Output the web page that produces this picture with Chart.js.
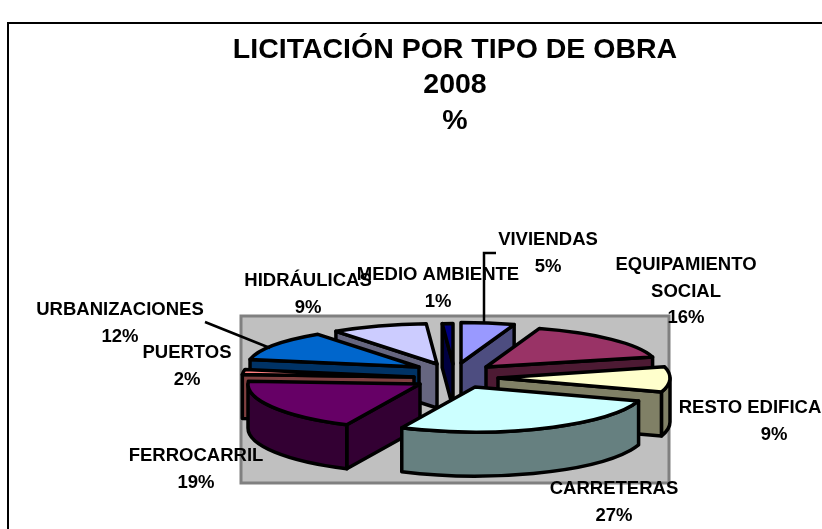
<!DOCTYPE html>
<html>
<head>
<meta charset="utf-8">
<script src="https://cdn.jsdelivr.net/npm/chart.js@4"></script>
<style>
  html, body { margin: 0; padding: 0; background: #fff; overflow: hidden; }
  canvas { display: block; }
</style>
</head>
<body>
<canvas id="licitacion" width="822" height="529"></canvas>
<script>
const categorias = ['VIVIENDAS', 'EQUIPAMIENTO\nSOCIAL', 'RESTO EDIFICA', 'CARRETERAS', 'FERROCARRIL', 'PUERTOS', 'URBANIZACIONES', 'HIDRÁULICAS', 'MEDIO AMBIENTE'];
const porcentajes = [5, 16, 9, 27, 19, 2, 12, 9, 1];
const titulo = ['LICITACIÓN POR TIPO DE OBRA', '2008', '%'];

const coloresTapa = ['#9999FF', '#993366', '#FFFFCC', '#CCFFFF', '#660066', '#FF8080', '#0066CC', '#CCCCFF', '#000080'];
const coloresLado = ['#4D4D80', '#4D1A33', '#808066', '#668080', '#330033', '#804040', '#003366', '#666680', '#000040'];
// cuanto se separa cada porcion del centro, en pixeles de pantalla
const desplazos = [[6, -9], [31, -5], [43, 6], [20, 15], [-35, 12], [-41, 5], [-36, -5], [-18, -8], [-2, -8]];
// centro x, y de la primera linea de cada etiqueta
const posEtiquetas = [[548, 240], [686, 265], [750, 408], [614, 489], [196, 456], [187, 353], [120, 310], [308, 281], [438, 275]];

const centro = { x: 455, y: 372 };
const RADIO = 172;
const ALTO = 44;
const etiquetaFuente = 'bold 18.5px "Liberation Sans", Arial, sans-serif';

const pastel3d = {
  id: 'pastel3d',
  beforeDraw(chart) {
    const ctx = chart.ctx;
    ctx.save();
    ctx.fillStyle = '#C0C0C0';
    ctx.strokeStyle = '#808080';
    ctx.lineWidth = 3;
    ctx.fillRect(241, 316, 428, 167);
    ctx.strokeRect(241, 316, 428, 167);
    ctx.strokeStyle = '#000';
    ctx.lineWidth = 2;
    ctx.beginPath();
    ctx.moveTo(8, 529);
    ctx.lineTo(8, 23);
    ctx.lineTo(822, 23);
    ctx.stroke();
    ctx.restore();
  },
  beforeDatasetDraw(chart) {
    const ctx = chart.ctx;
    const arcos = chart.getDatasetMeta(0).data.map((arc, i) => {
      const medio = (arc.startAngle + arc.endAngle) / 2;
      // el fondo se ve algo mas aplastado que el frente
      const k = Math.sin(medio) < 0 ? 0.235 : 0.262;
      return {
        arc, i, medio, k,
        x: centro.x + desplazos[i][0],
        y: centro.y + desplazos[i][1]
      };
    });
    arcos.sort((a, b) => Math.sin(a.medio) - Math.sin(b.medio));

    ctx.save();
    ctx.lineWidth = 3.5;
    ctx.lineJoin = 'round';
    ctx.strokeStyle = '#000';
    arcos.forEach(s => dibujarPorcion(ctx, s));
    ctx.restore();
    return false;
  },
  afterDraw(chart) {
    const ctx = chart.ctx;
    ctx.save();
    ctx.strokeStyle = '#000';
    ctx.lineWidth = 2.5;
    ctx.beginPath();
    ctx.moveTo(484, 323);
    ctx.lineTo(484, 253);
    ctx.lineTo(496, 253);
    ctx.moveTo(205, 322);
    ctx.lineTo(270, 348);
    ctx.stroke();

    ctx.fillStyle = '#000';
    ctx.font = etiquetaFuente;
    ctx.textAlign = 'center';
    ctx.textBaseline = 'middle';
    categorias.forEach((cat, i) => {
      const lineas = cat.split('\n').concat(porcentajes[i] + '%');
      lineas.forEach((txt, n) => {
        let x = posEtiquetas[i][0];
        // la etiqueta de RESTO EDIFICA tiene el % centrado mas a la derecha
        if (i === 2 && n === 1) x = 774;
        ctx.fillText(txt, x, posEtiquetas[i][1] + n * 26.5);
      });
    });
    ctx.restore();
  }
};

function dibujarPorcion(ctx, s) {
  const ini = s.arc.startAngle;
  const fin = s.arc.endAngle;
  const ry = RADIO * s.k;
  const bx = a => s.x + RADIO * Math.cos(a);
  const by = a => s.y + ry * Math.sin(a);

  ctx.fillStyle = coloresLado[s.i];

  // paredes radiales que miran al frente
  [ini, fin].forEach((a, n) => {
    const visible = n === 0 ? Math.cos(a) < 0 : Math.cos(a) > 0;
    if (!visible) return;
    ctx.beginPath();
    ctx.moveTo(s.x, s.y);
    ctx.lineTo(bx(a), by(a));
    ctx.lineTo(bx(a), by(a) + ALTO);
    ctx.lineTo(s.x, s.y + ALTO);
    ctx.closePath();
    ctx.fill();
    ctx.stroke();
  });

  // pared curva, solo la mitad delantera de la elipse
  const a1 = Math.max(ini, 0);
  const a2 = Math.min(fin, Math.PI);
  if (a2 > a1) {
    ctx.beginPath();
    ctx.ellipse(s.x, s.y, RADIO, ry, 0, a1, a2);
    ctx.lineTo(bx(a2), by(a2) + ALTO);
    ctx.ellipse(s.x, s.y + ALTO, RADIO, ry, 0, a2, a1, true);
    ctx.closePath();
    ctx.fill();
    ctx.stroke();
  }

  // tapa: la dibuja el propio arco de Chart.js, aplastado
  ctx.save();
  ctx.translate(s.x, s.y);
  ctx.scale(1, s.k);
  ctx.translate(-s.arc.x, -s.arc.y);
  s.arc.draw(ctx);
  ctx.restore();

  ctx.beginPath();
  ctx.moveTo(s.x, s.y);
  ctx.ellipse(s.x, s.y, RADIO, ry, 0, ini, fin);
  ctx.closePath();
  ctx.stroke();
}

new Chart(document.getElementById('licitacion').getContext('2d'), {
  type: 'pie',
  data: {
    labels: categorias,
    datasets: [{
      data: porcentajes,
      backgroundColor: coloresTapa,
      borderWidth: 0
    }]
  },
  options: {
    responsive: false,
    animation: false,
    radius: RADIO,
    layout: { padding: { left: 88, top: 32 } },
    plugins: {
      legend: { display: false },
      tooltip: { enabled: false },
      title: {
        display: true,
        text: titulo,
        color: '#000',
        font: { size: 28.5, weight: 'bold', family: '"Liberation Sans", Arial, sans-serif', lineHeight: 1.25 },
        padding: 0
      }
    }
  },
  plugins: [pastel3d]
});
</script>
</body>
</html>
